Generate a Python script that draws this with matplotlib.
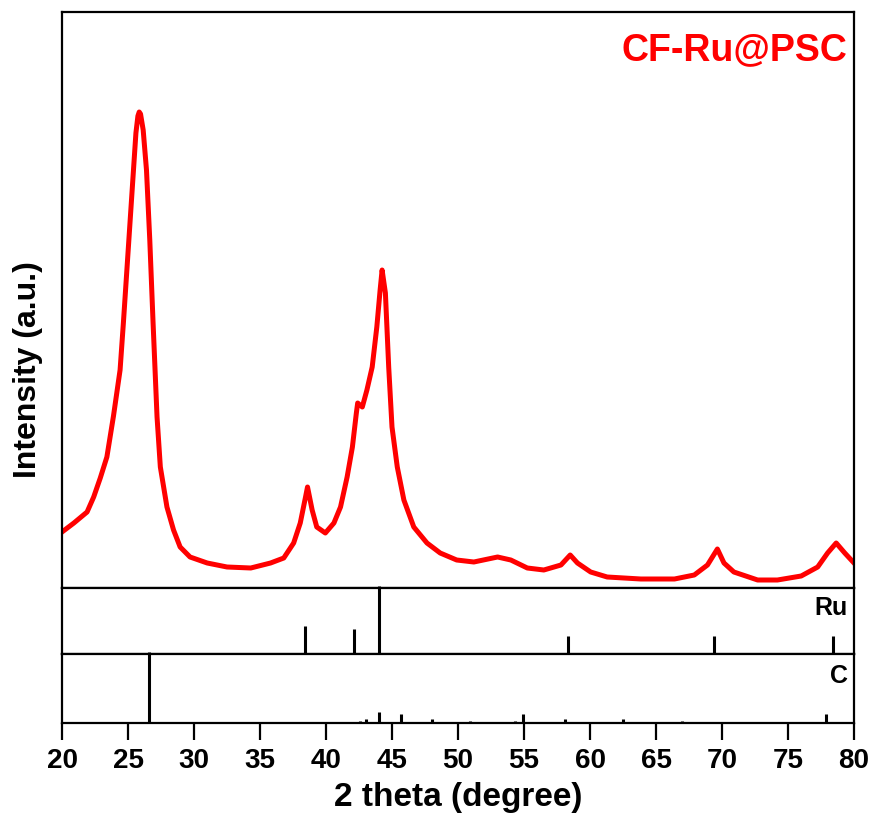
import matplotlib
matplotlib.use("Agg")
import matplotlib.pyplot as plt

# measured XRD pattern (2theta, intensity a.u.)
two_theta = [20.0, 20.9, 21.9, 22.4, 22.9, 23.4, 23.9, 24.4, 24.65, 24.9, 25.15,
             25.4, 25.6, 25.75, 25.85, 25.95, 26.15, 26.4, 26.65, 26.9, 27.2, 27.45, 27.95, 28.45,
             28.95, 29.7, 31.0, 32.5, 34.3, 35.8, 36.8, 37.55, 38.05, 38.45, 38.6,
             38.95, 39.3, 39.95, 40.6, 41.1, 41.6, 42.0, 42.3, 42.4, 42.75, 43.1, 43.5,
             43.85, 44.1, 44.25, 44.5, 44.75, 45.0, 45.4, 45.9, 46.65, 47.65, 48.65,
             49.9, 51.2, 53.0, 54.0, 55.25, 56.5, 57.8, 58.5, 59.05, 60.05, 61.3, 63.85,
             66.4, 67.9, 68.9, 69.65, 70.15, 70.9, 72.7, 74.2, 76.0, 77.25, 78.0, 78.65,
             79.3, 80.0]
intensity = [56, 65, 76, 91, 110, 131, 172, 218, 265, 315, 365,
             415, 455, 472, 476, 474, 458, 418, 348, 265, 171, 121, 81, 58,
             41, 31, 25, 21, 20, 25, 30, 45, 65, 91, 101,
             78, 61, 55, 65, 81, 111, 141, 175, 185, 181, 198, 221,
             261, 298, 318, 295, 221, 161, 121, 88, 61, 45, 35,
             28, 26, 31, 28, 20, 18, 23, 33, 25, 16, 11, 9,
             9, 13, 23, 39, 25, 16, 8, 8, 12, 21, 35, 45,
             35, 25]

# reference cards
ru_pos = [38.39, 42.15, 44.01, 58.33, 69.41, 78.39]
ru_int = [41, 37, 100, 27, 27, 27]
c_pos = [26.6, 42.6, 43.0, 44.05, 45.7, 48.0, 50.9, 54.3, 54.9, 58.1, 62.5, 67.0, 77.9]
c_int = [100, 3, 6, 15, 13, 6, 3, 3, 13, 6, 6, 3, 13]

xticks = list(range(20, 85, 5))

arial = ['Liberation Sans', 'DejaVu Sans']

fig = plt.figure(figsize=(8.74, 8.18), dpi=100)
left, width = 62 / 874, 792 / 874
ax = fig.add_axes([left, 1 - 588 / 818, width, 576 / 818])
ax_ru = fig.add_axes([left, 1 - 654 / 818, width, 66 / 818])
ax_c = fig.add_axes([left, 1 - 723 / 818, width, 69 / 818])

ax.plot(two_theta, intensity, color='#ff0000', lw=3.6, solid_joinstyle='round')
ax.set_ylim(0, 576)
ax.text(0.992, 0.965, 'CF-Ru@PSC', transform=ax.transAxes, ha='right', va='top',
        color='#ff0000', fontsize=27, fontweight='bold', family=arial)

# y label centred on the whole stack of panels
fig.text(28 / 874, 1 - 370 / 818, 'Intensity (a.u.)', rotation=90, ha='center', va='center',
         fontsize=23, fontweight='bold', family=arial)

ax_ru.vlines(ru_pos, 0, ru_int, color='black', lw=2.2, clip_on=False)
ax_ru.set_ylim(0, 97)
ax_ru.text(0.992, 0.88, 'Ru', transform=ax_ru.transAxes, ha='right', va='top',
           fontsize=18, fontweight='bold', family=arial)

ax_c.vlines(c_pos, 0, c_int, color='black', lw=2.2, clip_on=False)
ax_c.set_ylim(0, 97)
ax_c.text(0.992, 0.86, 'C', transform=ax_c.transAxes, ha='right', va='top',
          fontsize=18, fontweight='bold', family=arial)

for a in (ax, ax_ru, ax_c):
    a.set_xlim(20, 80)
    a.set_yticks([])
    for s in a.spines.values():
        s.set_linewidth(1.6)
    if a is not ax_c:
        a.set_xticks([])

ax_c.set_xticks(xticks)
ax_c.set_xticklabels([str(t) for t in xticks], fontsize=20, fontweight='bold', family=arial)
ax_c.tick_params(axis='x', direction='out', length=12, width=1.6, pad=6)
ax_c.set_xlabel('2 theta (degree)', fontsize=24, fontweight='bold', family=arial, labelpad=6)

fig.savefig('out.png', dpi=100)
